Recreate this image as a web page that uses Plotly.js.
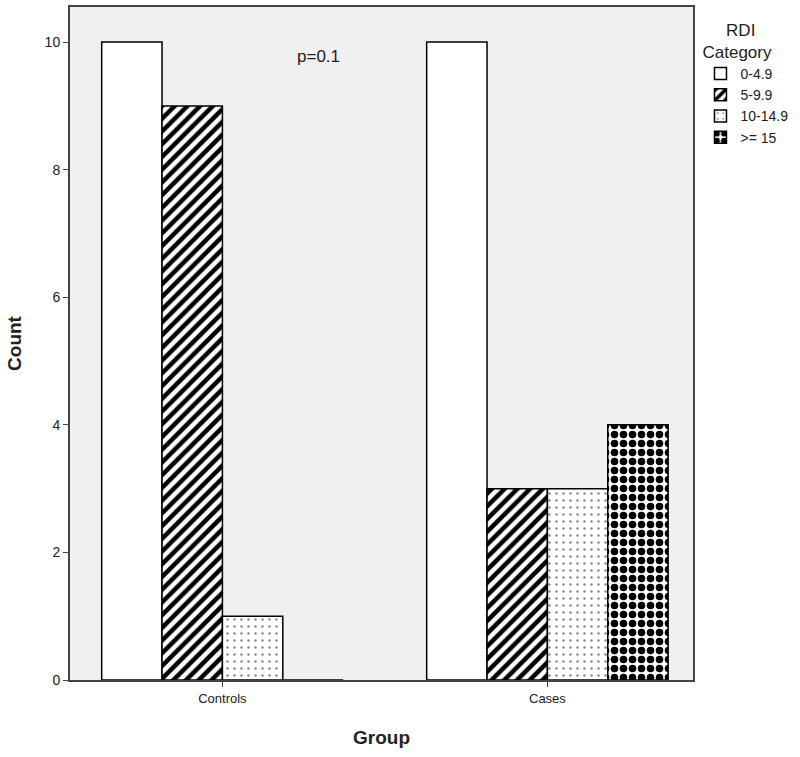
<!DOCTYPE html>
<html>
<head>
<meta charset="utf-8">
<script src="https://cdn.plot.ly/plotly-3.0.1.min.js"></script>
<style>
  body { margin: 0; background: #fff; }
  #chart { width: 800px; height: 757px; }
</style>
</head>
<body>
<div id="chart"></div>
<script>
const groups = ['Controls', 'Cases'];
const categories = ['0-4.9', '5-9.9', '10-14.9', '>= 15'];
const counts = [
  [10, 10],  // 0-4.9
  [9, 3],    // 5-9.9
  [1, 3],    // 10-14.9
  [0, 4]     // >= 15
];

// one fill pattern per RDI category, SPSS-like
const patterns = [
  { shape: '' },
  { shape: '/', fgcolor: '#000', bgcolor: '#fff', size: 9, solidity: 0.5 },
  { shape: '.', fgcolor: '#888', bgcolor: '#fff', size: 7, solidity: 0.1 },
  { shape: '.', fgcolor: '#000', bgcolor: '#fff', size: 9, solidity: 0.55 }
];

const traces = categories.map((cat, i) => ({
  type: 'bar',
  name: cat,
  x: groups,
  y: counts[i],
  marker: {
    color: '#fff',
    line: { color: '#000', width: 1.5 },
    pattern: patterns[i]
  }
}));

const layout = {
  width: 800,
  height: 757,
  margin: { l: 70, r: 103, t: 7, b: 77 },
  paper_bgcolor: '#fff',
  plot_bgcolor: '#f0f0f0',
  font: { family: 'Liberation Sans, Arial, sans-serif', color: '#222', size: 13 },
  barmode: 'group',
  bargap: 0.257,
  bargroupgap: 0,
  showlegend: true,
  legend: {
    x: 1.012, y: 0.99, xanchor: 'left', yanchor: 'top',
    title: { text: '     RDI<br>Category', font: { size: 17 } },
    font: { size: 14 },
    tracegroupgap: 0,
    itemwidth: 30
  },
  xaxis: {
    type: 'category',
    range: [-0.469, 1.448],
    showgrid: false,
    showline: true, linecolor: '#444', linewidth: 2, mirror: true,
    ticks: 'outside', ticklen: 5, tickcolor: '#444',
    tickfont: { size: 13 },
    title: { text: '<b>Group</b>', font: { size: 19 }, standoff: 26 }
  },
  yaxis: {
    range: [0, 10.55],
    dtick: 2,
    showgrid: false,
    zeroline: false,
    showline: true, linecolor: '#444', linewidth: 2, mirror: true,
    ticks: 'outside', ticklen: 5, tickcolor: '#444',
    tickfont: { size: 14 },
    title: { text: '<b>Count</b>', font: { size: 19 }, standoff: 18 }
  },
  annotations: [{
    text: 'p=0.1', xref: 'paper', yref: 'paper',
    x: (320 - 70) / 627, y: (680 - 57) / 673,
    xanchor: 'center', yanchor: 'middle',
    showarrow: false, font: { size: 17, color: '#222' }
  }]
};

Plotly.newPlot('chart', traces, layout, { displayModeBar: false });
</script>
</body>
</html>
